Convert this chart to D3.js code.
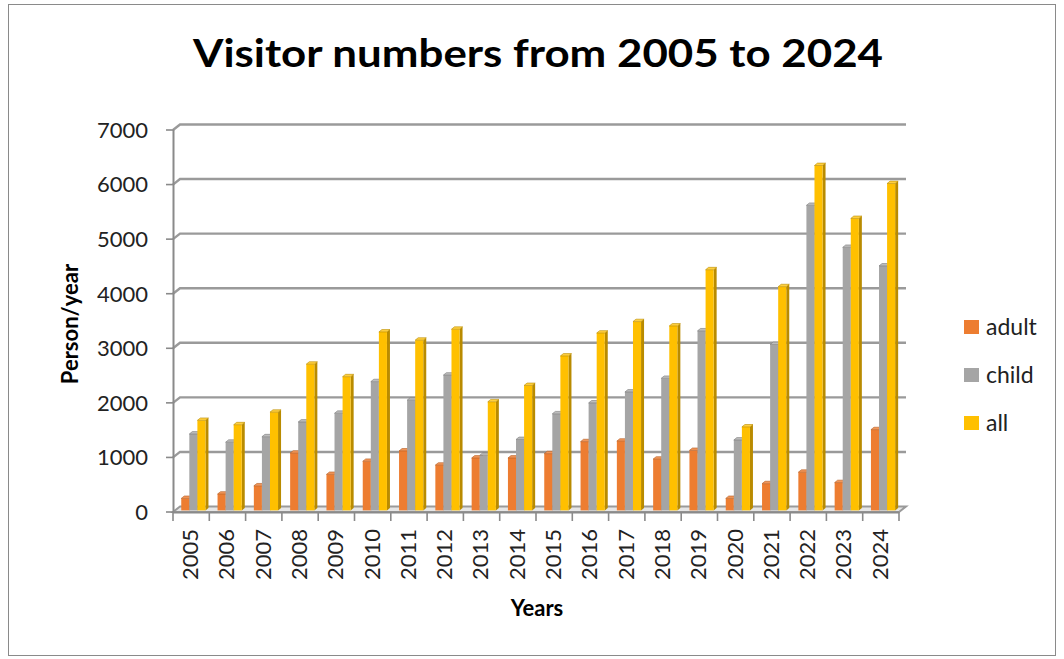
<!DOCTYPE html>
<html>
<head>
<meta charset="utf-8">
<script src="https://cdn.jsdelivr.net/npm/d3@7"></script>
<style>
  html, body { margin: 0; padding: 0; background: #fff; }
  svg { display: block; }
  text { font-family: Lato, "Open Sans", sans-serif; }
</style>
</head>
<body>
<svg id="chart" width="1064" height="659"></svg>
<script>
const years = ["2005","2006","2007","2008","2009","2010","2011","2012","2013","2014","2015","2016","2017","2018","2019","2020","2021","2022","2023","2024"];
const adult = [220, 300, 450, 1050, 660, 900, 1090, 830, 960, 960, 1040, 1260, 1270, 940, 1100, 220, 490, 700, 510, 1480];
const child = [1400, 1250, 1350, 1620, 1780, 2360, 2020, 2480, 1010, 1300, 1770, 1970, 2170, 2420, 3290, 1290, 3040, 5590, 4820, 4480];
const all = [1650, 1570, 1800, 2680, 2450, 3270, 3120, 3320, 1990, 2290, 2830, 3250, 3460, 3380, 4410, 1530, 4100, 6320, 5350, 5990];
const seriesNames = ["adult", "child", "all"];
const yTicks = [0, 1000, 2000, 3000, 4000, 5000, 6000, 7000];

const seriesData = [adult, child, all];
const colors = {
  adult: { front: "#ED7D31", side: "#B35C22", top: "#F29659" },
  child: { front: "#A5A5A5", side: "#7A7A7A", top: "#BDBDBD" },
  all:   { front: "#FFC000", side: "#B98B00", top: "#FFD040" }
};

const svg = d3.select("#chart");

// chart border
svg.append("rect").attr("x", 8.5).attr("y", 4.5).attr("width", 1047).attr("height", 651)
  .attr("fill", "#fff").attr("stroke", "#8a8a8a").attr("stroke-width", 1);

const x = d3.scaleBand().domain(years).range([173, 899]).padding(0);
const step = x.bandwidth();
const gapHalf = step * 1.5 / 4.5 / 2;
const inner = d3.scaleBand().domain(seriesNames).range([gapHalf, step - gapHalf]).padding(0);
const y = d3.scaleLinear().domain([0, 7000]).range([512, 130]);

const DX = 7, DY = -5.5;      // full depth of the plot box
const BX = 2.2, BY = -1.6;    // bar front-face offset
const PX = 3, PY = -2.4;      // bar depth

const gridColor = "#9a9a9a";

// floor
const fy = y(0);
svg.append("polygon")
  .attr("points", [[173, fy], [899, fy], [899 + DX, fy + DY], [173 + DX, fy + DY]].map(p => p.join(",")).join(" "))
  .attr("fill", "#e6e6e6").attr("stroke", gridColor).attr("stroke-width", 2);

// gridlines (side wall diagonal + back wall)
svg.append("g").selectAll("polyline").data(yTicks.filter(v => v > 0)).join("polyline")
  .attr("points", v => `173,${y(v)} ${173 + DX},${y(v) + DY} ${899 + DX},${y(v) + DY}`)
  .attr("fill", "none").attr("stroke", gridColor).attr("stroke-width", 2.4);

// bars
const barsG = svg.append("g");
const w = inner.bandwidth();
years.forEach((yr, i) => {
  seriesNames.forEach((s, si) => {
    const v = seriesData[si][i];
    const x0 = x(yr) + inner(s) + BX;
    const yt = y(v) + BY;
    const yb = y(0) + BY;
    const c = colors[s];
    barsG.append("polygon")
      .attr("points", [[x0 + w, yt], [x0 + w + PX, yt + PY], [x0 + w + PX, yb + PY], [x0 + w, yb]].map(p => p.join(",")).join(" "))
      .attr("fill", c.side);
    barsG.append("rect").attr("x", x0).attr("y", yt).attr("width", w).attr("height", yb - yt)
      .attr("fill", c.front);
    barsG.append("polygon")
      .attr("points", [[x0, yt], [x0 + w, yt], [x0 + w + PX, yt + PY], [x0 + PX, yt + PY]].map(p => p.join(",")).join(" "))
      .attr("fill", c.top).attr("stroke", c.side).attr("stroke-width", 0.6);
  });
});

// y axis line + ticks + labels
svg.append("line").attr("x1", 173.5).attr("x2", 173.5).attr("y1", y(0)).attr("y2", y(7000))
  .attr("stroke", "#8a8a8a").attr("stroke-width", 2);
const yAxisG = svg.append("g");
yAxisG.selectAll("line").data(yTicks).join("line")
  .attr("x1", 166).attr("x2", 173.5).attr("y1", d => y(d)).attr("y2", d => y(d))
  .attr("stroke", "#8a8a8a").attr("stroke-width", 1.6);
yAxisG.selectAll("text").data(yTicks).join("text")
  .attr("x", 148).attr("y", d => y(d)).attr("dy", "0.36em")
  .attr("text-anchor", "end").attr("font-size", 22).attr("fill", "#222")
  .text(d => d);

// x axis line, ticks, labels
svg.append("line").attr("x1", 173).attr("x2", 899).attr("y1", y(0) + 0.5).attr("y2", y(0) + 0.5)
  .attr("stroke", "#8a8a8a").attr("stroke-width", 2);
const tickXs = years.map(yr => x(yr)).concat([899]);
svg.append("g").selectAll("line").data(tickXs).join("line")
  .attr("x1", d => d).attr("x2", d => d).attr("y1", y(0)).attr("y2", y(0) + 9)
  .attr("stroke", "#8a8a8a").attr("stroke-width", 1.6);
svg.append("g").selectAll("text").data(years).join("text")
  .attr("transform", d => `translate(${x(d) + step / 2 - 1},529) rotate(-90)`)
  .attr("text-anchor", "end").attr("dy", "0.36em")
  .attr("font-size", 22).attr("fill", "#222")
  .text(d => d);

// title
svg.append("text").attr("x", 538).attr("y", 67).attr("text-anchor", "middle")
  .attr("font-size", 39).attr("font-weight", "bold").attr("fill", "#000")
  .attr("textLength", 690).attr("lengthAdjust", "spacingAndGlyphs")
  .text("Visitor numbers from 2005 to 2024");

// axis titles
svg.append("text").attr("x", 537).attr("y", 616).attr("text-anchor", "middle")
  .attr("font-size", 22).attr("font-weight", "bold").attr("fill", "#000")
  .text("Years");
svg.append("text").attr("transform", "translate(78,324) rotate(-90)").attr("text-anchor", "middle")
  .attr("font-size", 22).attr("font-weight", "bold").attr("fill", "#000")
  .text("Person/year");

// legend
const leg = svg.append("g");
seriesNames.forEach((s, i) => {
  const ly = 327 + i * 48;
  leg.append("rect").attr("x", 964).attr("y", ly - 7).attr("width", 15).attr("height", 14)
    .attr("fill", colors[s].front);
  leg.append("text").attr("x", 986).attr("y", ly).attr("dy", "0.36em")
    .attr("font-size", 23).attr("fill", "#222").text(s);
});
</script>
</body>
</html>
